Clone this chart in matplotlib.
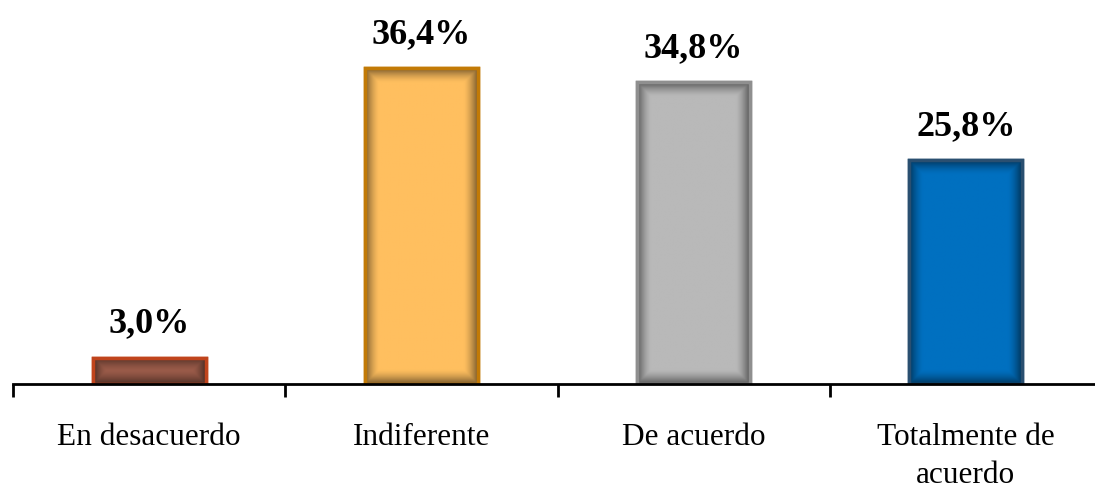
import numpy as np
import matplotlib
matplotlib.use("Agg")
from matplotlib import pyplot as plt
from matplotlib.colors import to_rgb

categories = ["En desacuerdo", "Indiferente", "De acuerdo", "Totalmente de\nacuerdo"]
values = [3.0, 36.4, 34.8, 25.8]
labels = ["3,0%", "36,4%", "34,8%", "25,8%"]
face_colors = ["#9c5c4a", "#ffbf5f", "#b9b9b9", "#0070c0"]
edge_colors = ["#c0441c", "#c27a06", "#8f8f8f", "#2a4f70"]

fig = plt.figure(figsize=(10.95, 4.93), dpi=100)
ax = fig.add_axes([13 / 1095, 109 / 493, 1089 / 1095, 347 / 493])

x = np.arange(len(categories))
bars = ax.bar(x, values, width=0.415, color=face_colors, edgecolor=edge_colors,
              linewidth=2.5, zorder=2)

# inner shadow to mimic the bevelled look
for b, fc in zip(bars, face_colors):
    x0, w, h = b.get_x(), b.get_width(), b.get_height()
    ny, nx = 200, 100
    px_w, px_h = 113.0, max(h * 8.67, 1)
    xx = np.linspace(0, 1, nx)
    yy = np.linspace(0, 1, ny)
    dx = np.minimum(xx, 1 - xx) * px_w
    dy = np.minimum(yy, 1 - yy)[:, None] * px_h
    d = np.minimum(dx[None, :], dy)
    shade = np.clip(1 - d / 14.0, 0, 1) ** 1.5 * 0.5
    rgb = np.array(to_rgb(fc))
    img = rgb[None, None, :] * (1 - shade[..., None])
    ax.imshow(img, extent=[x0, x0 + w, 0, h], aspect="auto", zorder=2.5,
              interpolation="bilinear", origin="lower")
    ax.bar(b.get_x() + w / 2, h, width=w, fill=False, edgecolor=b.get_edgecolor(),
           linewidth=2.5, zorder=3)

for xi, v, lab in zip(x, values, labels):
    ax.text(xi, v + 2.0, lab, ha="center", va="bottom", family="Liberation Serif",
            fontsize=26, fontweight="bold", color="black")

ax.set_xlim(-0.5, 3.5)
ax.set_ylim(0, 40)
ax.set_yticks([])
ax.set_xticks(np.arange(-0.5, 4.0, 1.0))
ax.set_xticklabels([])
ax.set_xticks(x, minor=True)
ax.set_xticklabels(categories, minor=True, family="Liberation Serif", fontsize=22.5,
                   linespacing=1.4)
ax.tick_params(axis="x", which="major", direction="out", length=9, width=2, color="black")
ax.tick_params(axis="x", which="minor", length=0, pad=28)
for s in ["top", "right", "left"]:
    ax.spines[s].set_visible(False)
ax.spines["bottom"].set_linewidth(2)
ax.spines["bottom"].set_zorder(4)

fig.savefig("out.png", dpi=100)
